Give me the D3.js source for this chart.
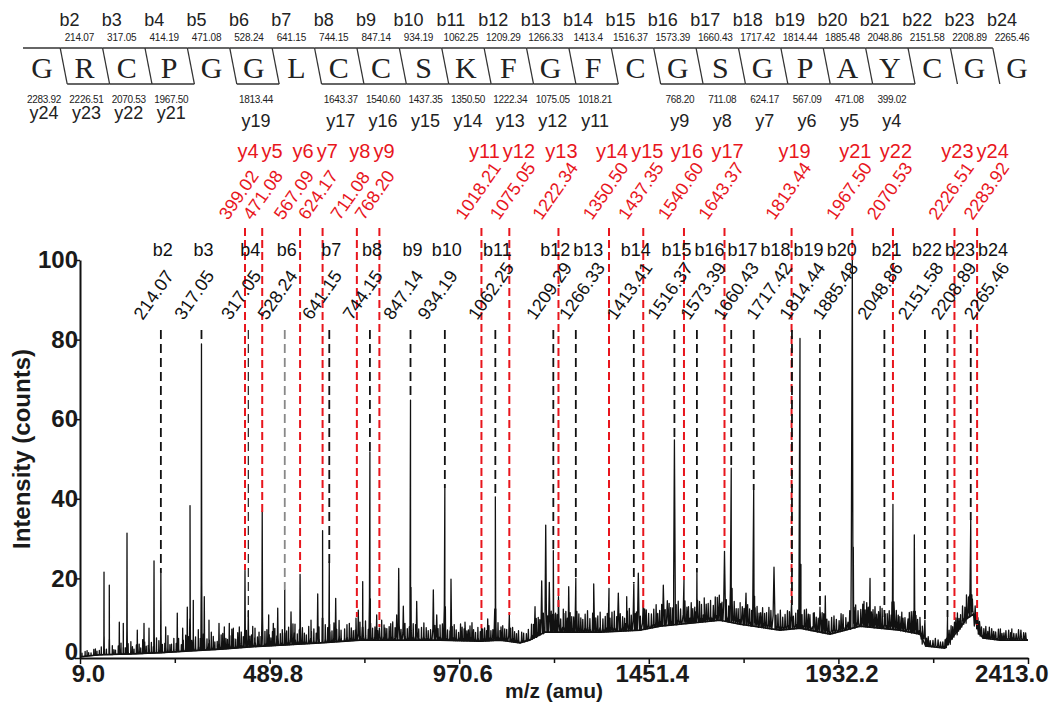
<!DOCTYPE html>
<html>
<head>
<meta charset="utf-8">
<script src="https://cdn.jsdelivr.net/npm/d3@7"></script>
<style>
  body { margin: 0; background: #fff; }
  svg { font-family: "Liberation Sans", Arial, sans-serif; }
  .axis .domain { stroke: #111; stroke-width: 2; }
  .axis .tick line { stroke: #111; stroke-width: 1.5; }
  .axis .tick text { font-size: 24px; font-weight: bold; fill: #1a1a1a; }
</style>
</head>
<body>
<svg id="chart" width="1056" height="702"></svg>
<script>
// peptide sequence shown above the spectrum
const residues = "GRCPGGLCCSKFGFCGSGPAYCGG".split("");

// b ions in the header, b_k sits over residue k-1
const headerB = [
  ["b2", "214.07"], ["b3", "317.05"], ["b4", "414.19"], ["b5", "471.08"], ["b6", "528.24"],
  ["b7", "641.15"], ["b8", "744.15"], ["b9", "847.14"], ["b10", "934.19"], ["b11", "1062.25"],
  ["b12", "1209.29"], ["b13", "1266.33"], ["b14", "1413.4"], ["b15", "1516.37"], ["b16", "1573.39"],
  ["b17", "1660.43"], ["b18", "1717.42"], ["b19", "1814.44"], ["b20", "1885.48"], ["b21", "2048.86"],
  ["b22", "2151.58"], ["b23", "2208.89"], ["b24", "2265.46"]
];
// y ions in the header, y_n sits under residue 24-n
const headerY = [
  ["y24", "2283.92"], ["y23", "2226.51"], ["y22", "2070.53"], ["y21", "1967.50"], ["y19", "1813.44"],
  ["y17", "1643.37"], ["y16", "1540.60"], ["y15", "1437.35"], ["y14", "1350.50"], ["y13", "1222.34"],
  ["y12", "1075.05"], ["y11", "1018.21"], ["y9", "768.20"], ["y8", "711.08"], ["y7", "624.17"],
  ["y6", "567.09"], ["y5", "471.08"], ["y4", "399.02"]
];
// residues carrying a bracket line above / below
const bracketTop = d3.range(0, 23);
const bracketBottom = [1, 2, 3, 5, 7, 8, 9, 10, 11, 12, 13, 15, 16, 17, 18, 19, 20];

// marked peaks: label, mass text, m/z of the marked peak, intensity where the dashed line stops
const bMarks = [
  ["b2", "214.07", 214.07, 21.4], ["b3", "317.05", 317.05, 78.9], ["b4", "317.05", 435.8, 10.3],
  ["b6", "528.24", 528.24, 17.1], ["b7", "641.15", 641.15, 23.9], ["b8", "744.15", 744.15, 51.8],
  ["b9", "847.14", 847.14, 64.8], ["b10", "934.19", 934.19, 42.7], ["b11", "1062.25", 1062.25, 40.5],
  ["b12", "1209.29", 1209.29, 27.1], ["b13", "1266.33", 1266.33, 20.1], ["b14", "1413.41", 1413.41, 18.8],
  ["b15", "1516.37", 1516.37, 54.8], ["b16", "1573.39", 1573.39, 21.4], ["b17", "1660.43", 1660.43, 47.7],
  ["b18", "1717.42", 1717.42, 42.2], ["b19", "1814.44", 1814.44, 13.0], ["b20", "1885.48", 1885.48, 12.8],
  ["b21", "2048.86", 2048.86, 10.3], ["b22", "2151.58", 2151.58, 9.5], ["b23", "2208.89", 2208.89, 10.3],
  ["b24", "2265.46", 2267.8, 34.7]
];
const yMarks = [
  ["y4", "399.02", 427.4, 22.1], ["y5", "471.08", 471.08, 36.7], ["y6", "567.09", 567.09, 21.6],
  ["y7", "624.17", 624.17, 32.7], ["y8", "711.08", 711.08, 10.3], ["y9", "768.20", 768.2, 7.8],
  ["y11", "1018.21", 1027.0, 7.5], ["y12", "1075.05", 1097.7, 10.8], ["y13", "1222.34", 1222.34, 12.8],
  ["y14", "1350.50", 1350.5, 17.6], ["y15", "1437.35", 1437.35, 12.6], ["y16", "1540.60", 1540.6, 19.6],
  ["y17", "1643.37", 1643.37, 27.1], ["y19", "1813.44", 1813.44, 13.8], ["y21", "1967.50", 1967.5, 100],
  ["y22", "2070.53", 2070.53, 38.9], ["y23", "2226.51", 2226.51, 9.5], ["y24", "2283.92", 2283.92, 8.3]
];

// spectrum peaks: [m/z, intensity]
const peaks = [
  [69.9, 21.6], [83.3, 18.3], [108.7, 9], [118.8, 8.7], [128.2, 31.4], [154.3, 7], [171.3, 8.7], [184, 7.5],
  [196.7, 24.4], [214.07, 21.6], [226.3, 7.8], [255.7, 11.3], [269.4, 7.5], [281.1, 12.8], [288, 38.3],
  [296.3, 14.5], [317.05, 78.9], [324.2, 15.4], [336.1, 9.5], [361.5, 8.7], [387.6, 8.7], [397.8, 7.5],
  [413, 7.8], [427.4, 22], [435.8, 11.8], [452.8, 7.5], [471.08, 36.8], [487.5, 10.8], [499.2, 8.7],
  [510.4, 12.5], [528.24, 17.1], [544.1, 11.6], [554.2, 8.5], [567.09, 21], [594.8, 9.5], [611.8, 16.1],
  [624.17, 32], [641.15, 24.2], [657.4, 15], [708.9, 10], [714.7, 12], [725.9, 19.2], [744.15, 51.8],
  [761.4, 10.8], [768.2, 7.5], [782.5, 7.5], [812.1, 10.8], [817.2, 22.5], [828.9, 13], [847.14, 64.8],
  [862.8, 14.2], [905, 17.1], [913.6, 10.8], [934.19, 42.7], [949.8, 19.8], [985.3, 9], [1027, 7.5],
  [1042.9, 9.8], [1062.25, 40.5], [1076.6, 7.8], [1097.7, 10.8], [1162.9, 12.9], [1179.8, 19.4],
  [1190, 33.4], [1199.1, 19], [1209.29, 27], [1222.34, 15.4], [1234.6, 12.3], [1248.3, 17.9],
  [1266.33, 20], [1311.7, 18.6], [1350.5, 17.5], [1374.1, 16.3], [1395.4, 15.4], [1413.41, 18.6],
  [1424.8, 21.3], [1437.35, 14.4], [1488.2, 18.3], [1498.4, 14.4], [1516.37, 54.8], [1540.6, 19.6],
  [1555.9, 10], [1573.39, 21.3], [1589.7, 10.8], [1610.9, 10], [1630.2, 15.8], [1643.37, 26.8],
  [1660.43, 47.7], [1688.5, 12.9], [1697.9, 16.3], [1717.42, 42.2], [1735.2, 11.4], [1768.9, 22.8],
  [1813.44, 13.8], [1834.8, 80.3], [1855.9, 11], [1868.6, 11.3], [1885.48, 12.8], [1899, 15.6],
  [1956.6, 9], [1967.5, 100], [1997.1, 14.2], [2012.4, 20], [2029.4, 11], [2048.86, 10.3], [2070.53, 38.6],
  [2096.1, 10], [2108.8, 9.8], [2124.7, 30.9], [2151.58, 9.5], [2208.89, 10.3], [2226.51, 9],
  [2249, 9.8], [2267.8, 34.7], [2283.92, 10.8]
];
// baseline level under the peaks: [m/z, intensity]
const baseline = [
  [9, 0.3], [59.7, 0.8], [135.8, 1.0], [211.9, 1.3], [288, 1.8], [364, 2.2], [440, 2.8], [516, 3.2],
  [617.6, 3.8], [719, 4.5], [820.5, 4.5], [922, 4.5], [1023, 4.2], [1074, 4.5], [1125, 3.8], [1150, 4.5],
  [1188, 6.5], [1226, 6.5], [1328, 6.5], [1429, 7], [1480, 8], [1581, 9], [1632, 9.5], [1683, 8.5],
  [1784, 7], [1835, 7.5], [1911, 6], [1949, 7], [1987, 8], [2088, 7], [2139, 6], [2154, 3], [2202, 2.5],
  [2220, 5], [2240, 7.5], [2258, 10], [2275, 11], [2290, 6], [2300, 5], [2342, 4.5], [2413, 4.5]
];
// small noise spikes on top of the baseline: [m/z, height above baseline]
const noise = [
  [22, 1.2], [31, 0.8], [44, 1.5], [52, 1], [63, 2], [76, 1.4], [91, 2.2], [99, 1.1], [113, 2.8], [124, 1.6],
  [138, 3.1], [146, 1.2], [159, 2.4], [168, 3.5], [177, 1.8], [190, 2.7], [203, 3.8], [218, 2.1], [232, 4.2],
  [241, 2], [259, 3.3], [266, 1.7], [277, 4], [292, 2.6], [302, 3.4], [309, 5.2], [331, 2.8], [342, 4.4],
  [351, 1.9], [367, 3.6], [375, 5.5], [383, 2.3], [394, 4.8], [404, 2.2], [418, 3.9], [440, 2.7], [447, 5.1],
  [459, 2.4], [478, 3.7], [493, 2], [503, 4.3], [517, 2.9], [533, 3.5], [549, 5.2], [560, 2.6], [573, 4.1],
  [583, 2.2], [602, 3.6], [631, 4.5], [648, 2.8], [666, 5.3], [680, 3.1], [692, 4.4], [702, 2.5], [733, 4.8],
  [751, 3], [774, 5], [793, 3.4], [802, 4.6], [839, 2.9], [854, 4.1], [875, 3.2], [892, 2.4], [922, 3.8],
  [941, 2.6], [958, 4], [969, 2.1], [978, 3.4], [994, 2.8], [1003, 4.6], [1012, 2.2], [1035, 3.3], [1051, 2.5],
  [1069, 4.4], [1086, 3], [1106, 3.6], [1116, 2.2], [1129, 2.6], [1141, 1.9], [1154, 3.8], [1171, 4.6],
  [1215, 4.8], [1241, 5.2], [1256, 3.9], [1274, 4.6], [1284, 3.2], [1296, 5.4], [1322, 4.1], [1335, 3.3],
  [1358, 4.9], [1385, 3.6], [1402, 5.6], [1417, 4.2], [1445, 4.8], [1458, 3.5], [1470, 5.6], [1479, 4],
  [1507, 4.4], [1526, 5.8], [1548, 4.1], [1563, 3.6], [1580, 5.2], [1597, 4.4], [1620, 6], [1637, 4.6],
  [1668, 5.4], [1678, 3.8], [1707, 4.2], [1726, 5.1], [1745, 3.6], [1756, 5.3], [1779, 4], [1791, 3.2],
  [1803, 4.7], [1824, 3.9], [1846, 4.8], [1876, 3.6], [1891, 5], [1908, 3.2], [1921, 4.3], [1934, 2.8],
  [1944, 4], [1976, 5.6], [1989, 4.2], [2004, 6.1], [2020, 4.5], [2038, 5.5], [2056, 3.8], [2079, 4.9],
  [2088, 3.4], [2117, 5.2], [2133, 3.6], [2139, 4.2], [2160, 2.4], [2172, 1.6], [2185, 1.9], [2197, 1.5],
  [2208, 2.3], [2218, 3.4], [2234, 4.6], [2242, 3.1], [2257, 6], [2290, 3.2], [2301, 2.4], [2315, 2.9],
  [2326, 2], [2338, 2.7], [2352, 1.8], [2364, 2.5], [2377, 1.7], [2389, 2.6], [2402, 1.9]
];
// finer noise between the spikes above
const noiseFine = [
  [14, 0.9], [27, 1.4], [37, 0.7], [48, 1.6], [58, 1.1], [71, 1.3], [84, 1.9], [95, 1.2], [106, 2.1], [119, 1.5],
  [131, 2.6], [142, 1.8], [152, 2.2], [163, 1.4], [173, 2.9], [182, 2], [195, 1.6], [209, 3.1], [224, 2.3],
  [237, 1.9], [247, 3.4], [253, 2.1], [271, 2.8], [284, 3.6], [297, 2.2], [314, 3], [322, 4.1], [337, 2.5],
  [347, 3.3], [357, 2], [371, 3.9], [379, 2.6], [389, 3.2], [399, 2.4], [409, 3.8], [423, 2.7], [431, 4.2],
  [444, 3], [452, 2.2], [463, 3.6], [468, 2.5], [483, 4.1], [489, 2.8], [497, 3.5], [508, 2.4], [522, 3.9],
  [528, 2.6], [538, 4.4], [553, 2.9], [565, 3.6], [578, 2.7], [589, 4.3], [596, 3], [608, 2.5], [615, 4],
  [624, 2.9], [637, 3.7], [643, 2.6], [653, 4.8], [660, 3.1], [671, 2.8], [686, 4.1], [697, 3.2], [707, 2.6],
  [719, 4.5], [727, 3.1], [740, 2.7], [746, 4.2], [757, 3.3], [764, 2.4], [780, 3.8], [787, 2.9], [797, 4.1],
  [808, 3.1], [823, 2.7], [833, 4.2], [844, 3.3], [849, 2.5], [860, 3.9], [868, 2.8], [881, 4.3], [887, 3.1],
  [898, 2.6], [909, 3.7], [917, 2.9], [928, 4.1], [936, 3], [947, 2.4], [953, 3.5], [963, 2.7], [974, 4.2],
  [983, 3], [990, 2.5], [998, 3.8], [1007, 2.9], [1018, 3.5], [1024, 2.4], [1030, 3.1], [1040, 2.6],
  [1046, 3.8], [1056, 2.7], [1064, 3.3], [1074, 2.4], [1081, 3.7], [1091, 2.9], [1101, 3.4], [1111, 2.6],
  [1121, 3], [1134, 2.2], [1146, 2.8], [1159, 3.5], [1166, 4.6], [1175, 3.8], [1184, 5], [1195, 4.1],
  [1204, 5.3], [1211, 3.7], [1219, 4.4], [1228, 3.3], [1236, 4.7], [1245, 3.5], [1252, 4.9], [1261, 3.8],
  [1269, 5.2], [1279, 3.6], [1290, 4.5], [1302, 3.4], [1309, 4.8], [1317, 3.6], [1328, 5], [1341, 3.9],
  [1346, 4.6], [1353, 3.4], [1364, 5.1], [1370, 3.7], [1379, 4.4], [1390, 3.2], [1397, 5], [1407, 3.9],
  [1420, 4.6], [1430, 3.5], [1441, 5.1], [1451, 3.8], [1464, 4.6], [1474, 3.3], [1484, 5.4], [1493, 4],
  [1503, 5.5], [1512, 4.3], [1521, 5], [1532, 3.8], [1543, 5.7], [1552, 4.2], [1559, 5.1], [1568, 3.9],
  [1575, 5.6], [1585, 4.4], [1592, 6], [1602, 4.5], [1608, 5.2], [1615, 3.9], [1625, 5.8], [1634, 4.2],
  [1648, 5.5], [1654, 4], [1663, 4.8], [1673, 3.7], [1683, 5.4], [1693, 4.1], [1702, 5.2], [1712, 3.9],
  [1721, 4.7], [1731, 3.5], [1740, 5], [1750, 3.9], [1761, 4.6], [1774, 3.6], [1785, 5], [1797, 3.8],
  [1808, 4.4], [1818, 3.2], [1829, 4.6], [1840, 3.5], [1851, 5.1], [1860, 3.9], [1871, 4.6], [1881, 3.4],
  [1895, 4.8], [1903, 3.6], [1915, 4.1], [1927, 3.3], [1939, 4.4], [1951, 3.1], [1961, 4.6], [1972, 5.2],
  [1982, 4], [1994, 5.6], [2000, 4.2], [2008, 5], [2016, 3.9], [2025, 5.3], [2034, 4.1], [2043, 5],
  [2051, 3.7], [2061, 4.6], [2066, 3.6], [2074, 4.8], [2084, 3.7], [2093, 4.6], [2101, 3.4], [2112, 4.9],
  [2121, 3.8], [2129, 4.5], [2145, 3.2], [2156, 2], [2165, 1.5], [2178, 2.2], [2191, 1.4], [2203, 2],
  [2213, 3], [2222, 2.6], [2230, 3.8], [2238, 2.7], [2247, 4.6], [2253, 3.5], [2262, 5.1], [2272, 4],
  [2279, 3.4], [2286, 2.8], [2295, 2.3], [2306, 3], [2311, 1.8], [2321, 2.6], [2331, 1.9], [2343, 2.8],
  [2347, 1.7], [2357, 2.4], [2369, 1.9], [2372, 2.8], [2383, 1.6], [2395, 2.5], [2407, 1.8]
];

const xTicks = [9.0, 489.8, 970.6, 1451.4, 1932.2, 2413.0];
const xMinorTicks = [249.4, 730.2, 1211.0, 1691.8, 2172.6];
const yTicks = [0, 20, 40, 60, 80, 100];

class fragmentSpectrumViz {
  constructor(_config) {
    this.config = {
      parentElement: _config.parentElement,
      containerWidth: _config.containerWidth,
      containerHeight: _config.containerHeight,
    }
    this.config.margin = _config.margin || { top: 260, bottom: 44, right: 28, left: 80 }
    this.initVis();
  }

  initVis() {
    let vis = this;
    vis.width = vis.config.containerWidth - vis.config.margin.left - vis.config.margin.right;
    vis.height = vis.config.containerHeight - vis.config.margin.top - vis.config.margin.bottom;
    vis.redLabelY = 158;     // baseline of y4, y5 ...
    vis.redLineTop = 228;
    vis.blackLabelY = 256;   // baseline of b2, b3 ...
    vis.blackLineTop = 330;

    vis.svg = d3.select(vis.config.parentElement);
    vis.g = vis.svg.append('g')
      .attr('transform', `translate(${vis.config.margin.left},${vis.config.margin.top})`)
      .attr('class', 'spectrum');

    vis.xScale = d3.scaleLinear().domain([9, 2413]).range([0, vis.width]);
    vis.yScale = d3.scaleLinear().domain([0, 100]).range([vis.height, 0]);
    vis.baseScale = d3.scaleLinear()
      .domain(baseline.map(d => d[0]))
      .range(baseline.map(d => d[1]))
      .clamp(true);
    vis.seqX = d3.scaleLinear().domain([0, residues.length - 1]).range([42, 1017]);

    vis.xAxis = vis.g.append('g')
      .attr('class', 'axis x-axis')
      .attr('transform', `translate(0,${vis.height})`)
      .call(d3.axisBottom(vis.xScale).tickValues(xTicks).tickFormat(d3.format('.1f'))
        .tickSizeInner(6).tickSizeOuter(0).tickPadding(1));
    vis.xAxis.selectAll('.tick text').attr('dx', 3);
    vis.xAxis.selectAll('.tick:first-of-type text').attr('dx', 8);
    vis.xAxis.selectAll('.tick:last-of-type text').attr('text-anchor', 'end').attr('dx', 20);

    vis.g.append('g')
      .attr('class', 'axis x-minor')
      .attr('transform', `translate(0,${vis.height})`)
      .call(d3.axisBottom(vis.xScale).tickValues(xMinorTicks).tickFormat('').tickSizeInner(5).tickSizeOuter(0))
      .select('.domain').remove();

    vis.yAxis = vis.g.append('g')
      .attr('class', 'axis y-axis')
      .call(d3.axisLeft(vis.yScale).tickValues(yTicks).tickFormat(d3.format('d'))
        .tickSizeInner(5).tickSizeOuter(0).tickPadding(-3));
    vis.yAxis.selectAll('.tick:first-of-type text').attr('dy', '0.08em');

    vis.svg.append('text')
      .attr('transform', `translate(30,${vis.config.margin.top + vis.height / 2 - 10}) rotate(-90)`)
      .attr('text-anchor', 'middle')
      .style('font-size', '24px').style('font-weight', 'bold').style('fill', '#1a1a1a')
      .text('Intensity (counts)');

    vis.svg.append('text')
      .attr('x', vis.config.margin.left + vis.width / 2)
      .attr('y', 698)
      .attr('text-anchor', 'middle')
      .style('font-size', '21px').style('font-weight', 'bold').style('fill', '#1a1a1a')
      .text('m/z (amu)');

    vis.render();
  }

  // push labels right so they do not overlap, start from the marked line
  spreadLabels(sel, shift, gap) {
    let vis = this;
    let prevRight = -Infinity;
    sel.each(function (d) {
      const w = this.getComputedTextLength();
      let c = vis.xScale(d[2]) + shift;
      if (c - w / 2 < prevRight + gap) c = prevRight + gap + w / 2;
      d.lx = c;
      prevRight = c + w / 2;
    });
    sel.attr('x', d => d.lx);
  }

  render() {
    let vis = this;
    const m = vis.config.margin;

    // ---- header: sequence with fragment brackets
    const head = vis.svg.append('g').attr('class', 'sequence');
    const xb = i => (vis.seqX(i) + vis.seqX(i + 1)) / 2;
    const topY = 48, botY = 84;

    head.selectAll('text.residue')
      .data(residues)
      .enter().append('text')
      .attr('class', 'residue')
      .attr('x', (d, i) => vis.seqX(i))
      .attr('y', 78)
      .attr('text-anchor', 'middle')
      .style('font-family', '"Liberation Serif", "Times New Roman", serif')
      .style('font-size', '30px')
      .style('fill', '#222')
      .text(d => d);

    const bracket = [];
    bracketTop.forEach(i => bracket.push([i === 0 ? vis.seqX(0) - 19 : xb(i - 1) - 3, topY, xb(i) - 3, topY]));
    bracketBottom.forEach(i => bracket.push([xb(i - 1) + 4, botY, xb(i) + 4, botY]));
    d3.range(0, residues.length - 1).forEach(i => bracket.push([xb(i) - 3, topY, xb(i) + 4, botY]));

    head.selectAll('line.bracket')
      .data(bracket)
      .enter().append('line')
      .attr('class', 'bracket')
      .attr('x1', d => d[0]).attr('y1', d => d[1])
      .attr('x2', d => d[2]).attr('y2', d => d[3])
      .style('stroke', '#333').style('stroke-width', 1.3);

    const bIdx = d => +d[0].slice(1) - 1;
    const yIdx = d => residues.length - +d[0].slice(1);

    head.selectAll('text.hb')
      .data(headerB)
      .enter().append('text')
      .attr('class', 'hb')
      .attr('x', d => vis.seqX(bIdx(d)) - 15)
      .attr('y', 26)
      .attr('text-anchor', 'middle')
      .style('font-size', '18px').style('fill', '#222')
      .text(d => d[0]);

    head.selectAll('text.hbm')
      .data(headerB)
      .enter().append('text')
      .attr('class', 'hbm')
      .attr('x', d => vis.seqX(bIdx(d)) - 5)
      .attr('y', 41)
      .attr('text-anchor', 'middle')
      .style('font-size', '10px').style('letter-spacing', '-0.2px').style('fill', '#222')
      .text(d => d[1]);

    head.selectAll('text.hym')
      .data(headerY)
      .enter().append('text')
      .attr('class', 'hym')
      .attr('x', d => vis.seqX(yIdx(d)) + 2)
      .attr('y', 103)
      .attr('text-anchor', 'middle')
      .style('font-size', '10px').style('letter-spacing', '-0.3px').style('fill', '#222')
      .text(d => d[1]);

    head.selectAll('text.hy')
      .data(headerY)
      .enter().append('text')
      .attr('class', 'hy')
      .attr('x', d => vis.seqX(yIdx(d)) + 2)
      .attr('y', d => yIdx(d) < 4 ? 119 : 127)
      .attr('text-anchor', 'middle')
      .style('font-size', '18px').style('fill', '#222')
      .text(d => d[0]);

    // ---- spectrum trace: labelled peaks are broader than the noise spikes
    let pts = baseline.map(b => [b[0], b[1]]);
    const addSpike = (mz, top, narrow) => {
      const f = vis.baseScale(mz);
      if (top <= f) return;
      const hw = narrow ? mz / 2400 + 0.3 : mz / 900 + 0.3;
      const mid = f + 0.22 * (top - f);
      pts.push([mz - 2.5 * hw, f], [mz - hw, mid], [mz, top], [mz + hw, mid], [mz + 2.5 * hw, f]);
    };
    peaks.forEach(p => addSpike(p[0], p[1], false));
    noise.concat(noiseFine).forEach(n => addSpike(n[0], vis.baseScale(n[0]) + n[1], true));
    pts.sort((a, b) => a[0] - b[0]);

    const line = d3.line()
      .x(d => vis.xScale(d[0]))
      .y(d => vis.yScale(d[1]));

    vis.g.append('path')
      .datum(baseline)
      .attr('d', line)
      .style('fill', 'none').style('stroke', '#111').style('stroke-width', 1.6);

    vis.g.append('path')
      .datum(pts)
      .attr('d', line)
      .style('fill', 'none').style('stroke', '#111').style('stroke-width', 1.3)
      .style('stroke-linejoin', 'round');

    // ---- dashed marker lines
    vis.g.selectAll('line.ymark')
      .data(yMarks)
      .enter().append('line')
      .attr('class', 'ymark')
      .attr('x1', d => vis.xScale(d[2])).attr('x2', d => vis.xScale(d[2]))
      .attr('y1', vis.redLineTop - m.top)
      .attr('y2', d => vis.yScale(d[3]))
      .style('stroke', '#e8161d').style('stroke-width', 2).style('stroke-dasharray', '8,4');

    vis.g.selectAll('line.bmark')
      .data(bMarks)
      .enter().append('line')
      .attr('class', 'bmark')
      .attr('x1', d => vis.xScale(d[2])).attr('x2', d => vis.xScale(d[2]))
      .attr('y1', vis.blackLineTop - m.top)
      .attr('y2', d => vis.yScale(d[3]))
      .style('stroke', d => d[0] === 'b6' ? '#888' : '#111')
      .style('stroke-width', d => d[0] === 'b4' ? 1.1 : 1.8)
      .style('stroke-dasharray', '9,5');

    // ---- marker labels
    const yLab = vis.g.selectAll('text.ylab')
      .data(yMarks)
      .enter().append('text')
      .attr('class', 'ylab')
      .attr('y', vis.redLabelY - m.top)
      .attr('text-anchor', 'middle')
      .style('font-size', '20px').style('fill', '#e8161d')
      .text(d => d[0]);
    vis.spreadLabels(yLab, 3, 3);

    const bLab = vis.g.selectAll('text.blab')
      .data(bMarks)
      .enter().append('text')
      .attr('class', 'blab')
      .attr('y', vis.blackLabelY - m.top)
      .attr('text-anchor', 'middle')
      .style('font-size', '18px').style('fill', '#111')
      .text(d => d[0]);
    vis.spreadLabels(bLab, 2, 3);

    vis.g.selectAll('text.ymass')
      .data(yMarks)
      .enter().append('text')
      .attr('class', 'ymass')
      .attr('transform', d => `translate(${d.lx - 20},${221 - m.top}) rotate(-55)`)
      .style('font-size', '18px').style('fill', '#e8161d')
      .text(d => d[1]);

    vis.g.selectAll('text.bmass')
      .data(bMarks)
      .enter().append('text')
      .attr('class', 'bmass')
      .attr('transform', d => `translate(${d.lx - 20},${321 - m.top}) rotate(-55)`)
      .style('font-size', '18px').style('fill', '#111')
      .text(d => d[1]);
  }
}

const spectrum = new fragmentSpectrumViz({
  parentElement: 'svg#chart',
  containerWidth: 1056,
  containerHeight: 702
});
</script>
</body>
</html>
